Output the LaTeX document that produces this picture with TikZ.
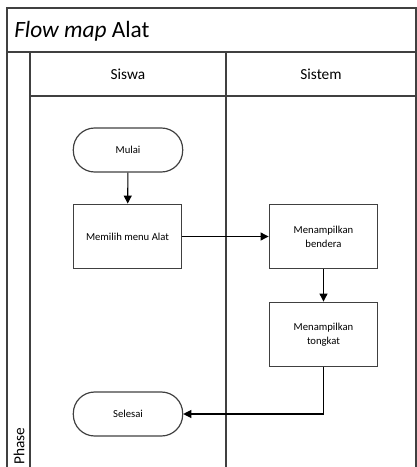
\documentclass[tikz,border=0pt]{standalone}
\usepackage{fontspec}
\setmainfont{Carlito}
\usetikzlibrary{arrows.meta}

\definecolor{lanegray}{RGB}{64,64,64}
\tikzset{
  term/.style={draw=lanegray, line width=0.9pt, rounded corners=16pt, minimum width=82pt, minimum height=33pt, inner sep=0.75pt, font=\fontsize{8}{10.5}\selectfont},
  proc/.style={draw=lanegray, line width=0.9pt, minimum width=81.5pt, minimum height=48.5pt, inner sep=0.75pt, align=center, font=\fontsize{8}{10.5}\selectfont},
  flow/.style={draw=black, line width=0.8pt, -{Triangle[width=6pt,length=6pt]}},
  lane/.style={draw=lanegray, line width=1.1pt}
}

\begin{document}
\begin{tikzpicture}[x=0.75pt,y=0.75pt,yscale=-1,xscale=1]
\useasboundingbox (0,0) rectangle (417,467);

%Frame and lanes
\draw [lane] (7,467) -- (7,8) -- (416,8) -- (416,467) ;
\draw [lane] (7,52) -- (416,52) ;
\draw [lane] (30,52) -- (30,467) ;
\draw [lane] (30,96) -- (416,96) ;
\draw [lane] (226,52) -- (226,467) ;

% Text Node
\node [anchor=west, inner sep=0.75pt, font=\fontsize{17.5}{20}\selectfont] (title) at (13,31) {\textit{Flow map} Alat};
% Text Node
\node [inner sep=0.75pt, font=\fontsize{11.5}{13}\selectfont] (siswa) at (128,74) {Siswa};
% Text Node
\node [inner sep=0.75pt, font=\fontsize{11.5}{13}\selectfont] (sistem) at (321,74) {Sistem};
% Text Node
\node [rotate=90, anchor=west, inner sep=0.75pt, font=\fontsize{11.5}{13}\selectfont] (phase) at (19,466) {Phase};

%Shapes
\node [term] (mulai) at (128,150) {Mulai};
\node [proc] (memilih) at (127.5,236.5) {Memilih menu Alat};
\node [proc] (bendera) at (323.5,236.5) {Menampilkan\\bendera};
\node [proc] (tongkat) at (323.5,334.5) {Menampilkan\\tongkat};
\node [term] (selesai) at (128,414) {Selesai};

%Connectors
\draw [flow] (mulai) -- (memilih) ;
\draw [flow] (memilih) -- (bendera) ;
\draw [flow] (bendera) -- (tongkat) ;
\draw [flow] (tongkat) |- (selesai) ;

\end{tikzpicture}
\end{document}
